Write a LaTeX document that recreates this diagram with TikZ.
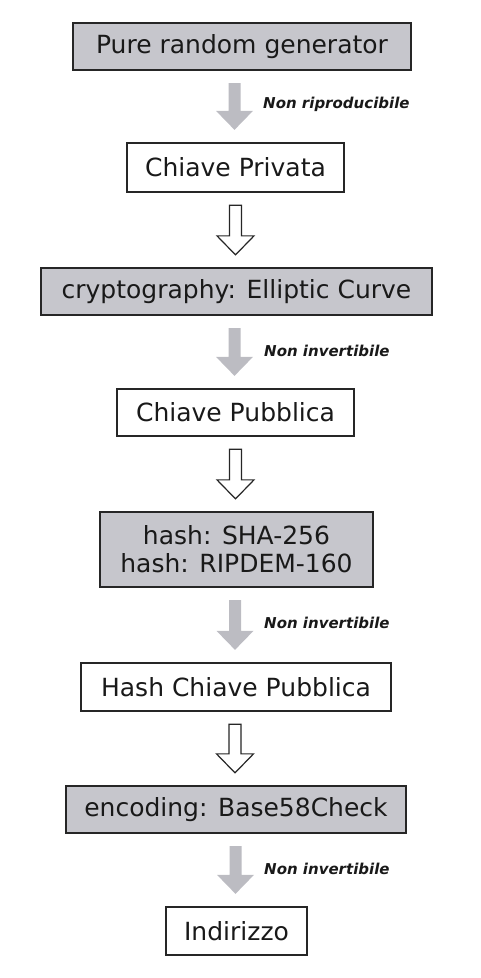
\documentclass[tikz,border=0pt]{standalone}
\usepackage{fontspec}
\setmainfont{DejaVu Sans}
\usetikzlibrary{calc}
\definecolor{boxgray}{RGB}{198,198,204}
\definecolor{arrowgray}{RGB}{188,188,194}
\tikzset{box/.style={draw=black!85, line width=1.3pt, minimum height=47pt,
    inner sep=0pt, align=center, text=black!90,
    font=\fontsize{25}{28}\selectfont}}
\tikzset{proc/.style={box, fill=boxgray}}
\tikzset{item/.style={box, fill=white}}
\tikzset{note/.style={anchor=west, inner sep=0pt, text=black!90,
    font=\fontsize{15}{17}\selectfont\bfseries\itshape}}
\tikzset{blockarrow/.style={to path={let \p1=(\tikztostart.south), \p2=(\tikztotarget.north) in
    (\x2-7pt,\y1-12.5pt) -- (\x2+5pt,\y1-12.5pt) -- (\x2+5pt,\y2+31.5pt)
    -- (\x2+17.5pt,\y2+31.5pt) -- (\x2-1pt,\y2+12.5pt) -- (\x2-19.5pt,\y2+31.5pt)
    -- (\x2-7pt,\y2+31.5pt) -- cycle}}}
\tikzset{oneway/.style={blockarrow, fill=arrowgray}}
\tikzset{step to/.style={blockarrow, draw=black!85, line width=1.2pt, fill=white}}

\begin{document}
\begin{tikzpicture}[x=1pt, y=-1pt]
  \useasboundingbox (0,0) rectangle (480,978);
  % stages of the chain
  \node[proc, minimum width=338pt] (rng) at (242,46.5) {Pure random generator};
  \node[item, minimum width=217pt, minimum height=49pt] (priv) at (235.5,167.5) {Chiave Privata};
  \node[proc, minimum width=391pt] (ecc) at (236.5,291.5) {cryptography: Elliptic Curve};
  \node[item, minimum width=237pt] (pub) at (235.5,412.5) {Chiave Pubblica};
  \node[proc, minimum width=273pt, minimum height=75pt] (hash) at (236.5,549.5) {hash: SHA-256\\hash: RIPDEM-160};
  \node[item, minimum width=310pt, minimum height=48pt] (pkh) at (236,687) {Hash Chiave Pubblica};
  \node[proc, minimum width=340pt] (enc) at (236,809.5) {encoding: Base58Check};
  \node[item, minimum width=141pt, minimum height=48pt] (addr) at (236.5,931) {Indirizzo};
  % arrows
  \path[oneway] (rng) to (priv);
  \path[step to] (priv) to (ecc);
  \path[oneway] (ecc) to (pub);
  \path[step to] (pub) to (hash);
  \path[oneway] (hash) to (pkh);
  \path[step to] (pkh) to (enc);
  \path[oneway] (enc) to (addr);
  % labels
  \node[note] (n1) at (263,104) {Non riproducibile};
  \node[note] (n2) at (264,351) {Non invertibile};
  \node[note] (n3) at (264,623) {Non invertibile};
  \node[note] (n4) at (264,869) {Non invertibile};
\end{tikzpicture}
\end{document}
